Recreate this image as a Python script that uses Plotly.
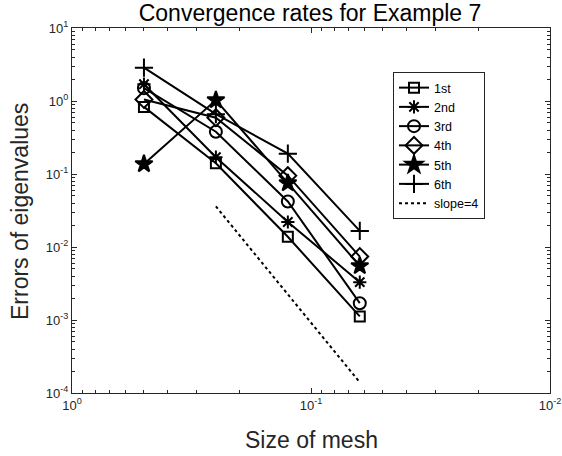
import plotly.graph_objects as go

h = [0.5, 0.25, 0.125, 0.0625]
err_1st = [0.83, 0.14, 0.0138, 0.00112]
err_2nd = [1.7, 0.17, 0.022, 0.0033]
err_3rd = [1.5, 0.38, 0.042, 0.0017]
err_4th = [1.05, 0.59, 0.095, 0.0074]
err_5th = [0.137, 1.03, 0.075, 0.0055]
err_6th = [2.86, 0.66, 0.19, 0.0166]
slope_x = [0.25, 0.0625]
slope_y = [0.036, 0.00014]

names = ["1st", "2nd", "3rd", "4th", "5th", "6th"]
series = [err_1st, err_2nd, err_3rd, err_4th, err_5th, err_6th]
symbols = ["square-open", "asterisk-open", "circle-open", "diamond-open", "star", "cross-thin-open"]
sizes = [10, 11, 12, 13, 13, 13]

fig = go.Figure()
for n, s, sym, sz in zip(names, series, symbols, sizes):
    fig.add_trace(go.Scatter(
        x=h, y=s, name=n, mode="lines+markers",
        line=dict(color="black", width=2),
        marker=dict(symbol=sym, size=sz, color="black", line=dict(color="black", width=2)),
    ))
fig.add_trace(go.Scatter(
    x=slope_x, y=slope_y, name="slope=4", mode="lines",
    line=dict(color="black", width=2, dash="dot"),
))

font_fam = "Liberation Sans, Arial, sans-serif"
xminor = [m * 10 ** e for e in (-1, -2) for m in range(2, 10)]
yminor = [m * 10 ** e for e in (-4, -3, -2, -1, 0) for m in range(2, 10)]

L, R, T, B = 72, 12, 28, 63
W, H = 562, 456
pw, ph = W - L - R, H - T - B

fig.update_layout(
    width=W, height=H,
    template="none",
    margin=dict(l=L, r=R, t=T, b=B),
    paper_bgcolor="white", plot_bgcolor="white",
    title=dict(text="Convergence rates for Example 7", x=310 / W, xanchor="center",
               y=1 - 13 / H, yanchor="middle",
               font=dict(family=font_fam, size=23, color="black")),
    showlegend=True,
    legend=dict(x=(393 - L) / pw, y=1 - (72 - T) / ph, xanchor="left", yanchor="top",
                bordercolor="#262626", borderwidth=1, bgcolor="white",
                font=dict(family=font_fam, size=12.5, color="black"),
                tracegroupgap=0, itemwidth=30),
    font=dict(family=font_fam, color="#262626"),
    annotations=[
        dict(text="Size of mesh", xref="paper", yref="paper",
             x=(311 - L) / pw, y=-(440 - (T + ph)) / ph, xanchor="center", yanchor="middle",
             showarrow=False, font=dict(family=font_fam, size=23, color="#262626")),
        dict(text="Errors of eigenvalues", xref="paper", yref="paper", textangle=-90,
             x=(20 - L) / pw, y=1 - (212 - T) / ph, xanchor="center", yanchor="middle",
             showarrow=False, font=dict(family=font_fam, size=23, color="#262626")),
    ],
)
fig.update_xaxes(
    type="log", range=[0, -2], automargin=False,
    tickmode="array", tickvals=[1, 0.1, 0.01],
    ticktext=["10<sup>0</sup>", "10<sup>-1</sup>", "10<sup>-2</sup>"],
    ticks="inside", ticklen=5, tickcolor="#262626", tickwidth=1,
    showline=True, linecolor="#262626", linewidth=1, mirror="ticks",
    showgrid=False, zeroline=False,
    tickfont=dict(family=font_fam, size=13, color="#262626"),
    minor=dict(tickmode="array", tickvals=xminor, ticks="inside", ticklen=3, tickcolor="#262626", showgrid=False),
)
fig.update_yaxes(
    type="log", range=[-4, 1], automargin=False,
    tickmode="array", tickvals=[1e-4, 1e-3, 1e-2, 1e-1, 1, 10],
    ticktext=["10<sup>-4</sup>", "10<sup>-3</sup>", "10<sup>-2</sup>", "10<sup>-1</sup>", "10<sup>0</sup>", "10<sup>1</sup>"],
    ticks="inside", ticklen=5, tickcolor="#262626", tickwidth=1,
    showline=True, linecolor="#262626", linewidth=1, mirror="ticks",
    showgrid=False, zeroline=False,
    tickfont=dict(family=font_fam, size=13, color="#262626"),
    minor=dict(tickmode="array", tickvals=yminor, ticks="inside", ticklen=3, tickcolor="#262626", showgrid=False),
)

fig.write_html("out.html")
